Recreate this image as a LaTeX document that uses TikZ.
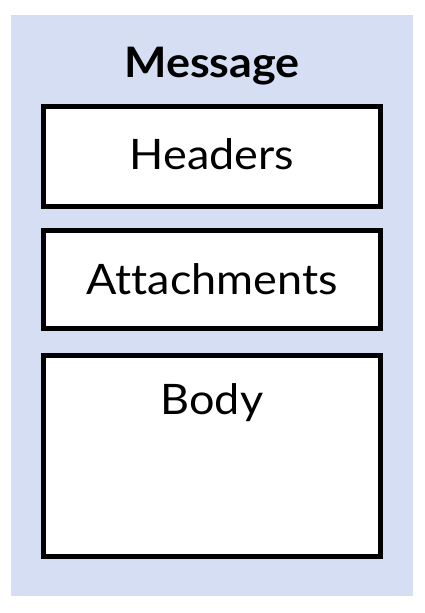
\documentclass[tikz,border=0pt]{standalone}
\usepackage{fontspec}
\setmainfont{Lato}[FakeStretch=1.07,Ligatures=NoCommon]
\usetikzlibrary{positioning}

\definecolor{msgblue}{RGB}{213,222,242}

\begin{document}
\begin{tikzpicture}[x=1pt,y=1pt,node distance=24pt,
  part/.style={draw,line width=5pt,fill=white,inner sep=0pt,outer sep=0pt,
    text width=337pt,align=center,font=\fontsize{42}{48}\selectfont}]
  \useasboundingbox (0,0) rectangle (425,-613);
  \fill[msgblue] (11,-15) rectangle (413,-596);

  \node[anchor=base,font=\bfseries\fontsize{42}{48}\selectfont] (message) at (212,-77) {Message};
  \node[part,text height=62.5pt,text depth=37.5pt,anchor=north] (headers) at (212,-106.5) {Headers};
  \node[part,text height=63.5pt,text depth=34.5pt] (attachments) [below=of headers] {Attachments};
  \node[part,text height=58.5pt,text depth=142.5pt] (body) [below=27pt of attachments] {Body};
\end{tikzpicture}
\end{document}
